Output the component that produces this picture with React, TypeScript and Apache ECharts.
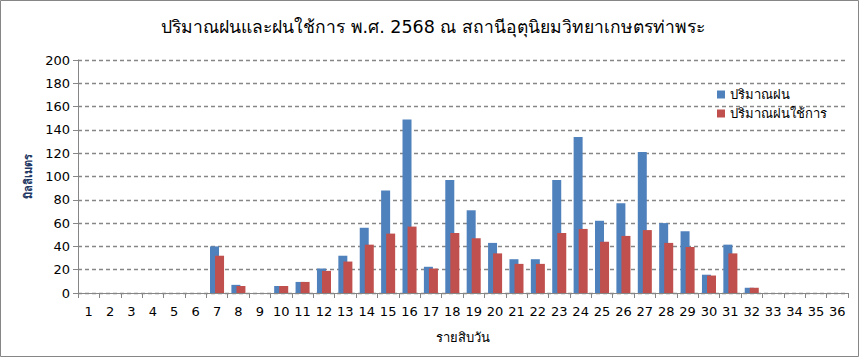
import React, { useEffect, useRef } from "react";
import * as echarts from "echarts";

const categories: string[] = Array.from({ length: 36 }, (_, i) => String(i + 1));
const rainfall: number[] = [0, 0, 0, 0, 0, 0, 40, 7, 0, 6, 9.5, 21, 32, 56, 88, 149, 22.5, 97, 71, 43, 29, 29, 97, 134, 62, 77, 121, 60, 53, 15.7, 41.5, 4.5, 0, 0, 0, 0];
const effectiveRain: number[] = [0, 0, 0, 0, 0, 0, 32, 6, 0, 6, 9.5, 19, 27, 41.5, 51, 57, 21, 51.5, 47, 34, 25, 25, 51.5, 55, 44, 49, 54, 43, 39.5, 15, 34, 4.5, 0, 0, 0, 0];
const titleText = "ปริมาณฝนและฝนใช้การ พ.ศ. 2568 ณ สถานีอุตุนิยมวิทยาเกษตรท่าพระ";
const seriesNames = ["ปริมาณฝน", "ปริมาณฝนใช้การ"];
const yAxisName = "มิลลิเมตร";
const xAxisName = "รายสิบวัน";

const FONT = "Tahoma, 'DejaVu Sans', 'Noto Sans', sans-serif";

export default function App() {
  const ref = useRef<HTMLDivElement>(null);
  useEffect(() => {
    document.body.style.margin = "0";
    const chart = echarts.init(ref.current!, undefined, { renderer: "svg" });
    chart.setOption({
      animation: false,
      backgroundColor: "#ffffff",
      textStyle: { fontFamily: FONT, color: "#000" },
      title: {
        text: titleText,
        left: 428,
        textAlign: "center",
        top: 13,
        textStyle: { fontSize: 17.5, fontWeight: "normal", color: "#000", fontFamily: FONT },
      },
      legend: {
        orient: "vertical",
        left: 712,
        top: 83,
        itemWidth: 8,
        itemHeight: 8,
        itemGap: 6,
        icon: "rect",
        textStyle: { fontSize: 13, color: "#000", fontFamily: FONT },
        data: seriesNames,
      },
      graphic: [
        {
          type: "rect",
          shape: { x: 0.5, y: 0.5, width: 858, height: 356 },
          style: { fill: "none", stroke: "#868686", lineWidth: 1 },
          silent: true,
        },
      ],
      grid: { left: 78, right: 16, top: 60, bottom: 68 },
      xAxis: {
        type: "category",
        data: categories,
        boundaryGap: true,
        name: xAxisName,
        nameLocation: "middle",
        nameGap: 38,
        nameTextStyle: { fontSize: 13, color: "#000", fontFamily: FONT },
        axisLine: { lineStyle: { color: "#868686" } },
        axisTick: { show: true, alignWithLabel: false, length: 5, lineStyle: { color: "#868686" } },
        axisLabel: { fontSize: 13, color: "#000", margin: 12, interval: 0, fontFamily: FONT },
      },
      yAxis: {
        type: "value",
        min: 0,
        max: 200,
        interval: 20,
        name: yAxisName,
        nameLocation: "middle",
        nameRotate: 90,
        nameGap: 44,
        nameTextStyle: { fontSize: 11, color: "#1F3864", fontWeight: "bold", fontFamily: FONT },
        axisLine: { show: true, lineStyle: { color: "#868686" } },
        axisTick: { show: true, length: 5, lineStyle: { color: "#868686" } },
        axisLabel: { fontSize: 13, color: "#000", margin: 8, fontFamily: FONT },
        splitLine: { show: true, lineStyle: { color: "#868686", type: [4, 3], width: 1.3 } },
      },
      series: [
        {
          name: seriesNames[0],
          type: "bar",
          data: rainfall,
          barWidth: 9,
          barGap: "-44%",
          itemStyle: { color: "#4F81BD" },
        },
        {
          name: seriesNames[1],
          type: "bar",
          data: effectiveRain,
          barWidth: 9,
          itemStyle: { color: "#C0504D" },
        },
      ],
    });
    return () => chart.dispose();
  }, []);
  return <div ref={ref} style={{ width: 864, height: 361 }} />;
}
